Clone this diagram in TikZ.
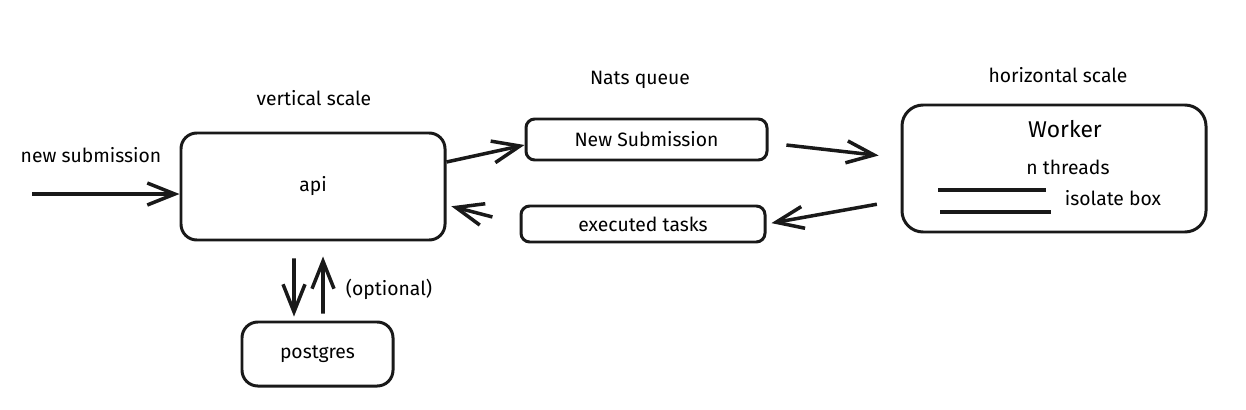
\documentclass[tikz,border=0pt]{standalone}
\usepackage{fontspec}
\setmainfont{Fira Sans}
\usetikzlibrary{arrows.meta}

\tikzset{
  box/.style={draw=black!90, line width=1.7pt, rounded corners=9pt, align=center, font=\fontsize{11}{13}\selectfont},
  lbl/.style={font=\fontsize{11}{13}\selectfont},
  arr/.style={black!90, line width=2pt, -{Straight Barb[length=5.5mm, width=4.4mm, line width=2pt]}}
}

\begin{document}
\begin{tikzpicture}[x=0.2mm, y=0.2mm]
\useasboundingbox (0,0) rectangle (1246,-409);

% boxes
\node[box, minimum width=5.28cm, minimum height=2.14cm] (api) at (313,-186.5) {api};
\node[box, minimum width=4.82cm, minimum height=0.82cm, rounded corners=5pt] (nsub) at (646.5,-139.5) {New Submission};
\node[box, minimum width=4.88cm, minimum height=0.72cm, rounded corners=5pt] (exec) at (643,-224) {executed tasks};
\node[box, minimum width=6.08cm, minimum height=2.54cm, rounded corners=12pt] (worker) at (1054,-168.5) {};
\node[box, minimum width=3.02cm, minimum height=1.28cm] (pg) at (317.5,-354) {postgres};

% labels
\node[lbl] (lnew) at (91,-155) {new submission};
\node[lbl] (lvert) at (314,-98) {vertical scale};
\node[lbl] (lnats) at (640,-80) {Nats queue};
\node[lbl] (lhor) at (1058,-75) {horizontal scale};
\node[font=\fontsize{13}{15}\selectfont] (lwork) at (1065,-129) {Worker};
\node[lbl] (lthr) at (1068,-167) {n threads};
\node[lbl] (liso) at (1113,-198) {isolate box};
\node[lbl] (lopt) at (389,-289) {(optional)};

% threads inside the worker
\draw[black!90, line width=2.2pt] (938,-190) -- (1046,-190);
\draw[black!90, line width=2.2pt] (940,-212) -- (1051,-212);

% arrows
\coordinate (in) at (32,-194);
\draw[arr] (in) -- (in -| api.west);
\draw[arr] ([yshift=0.49cm]api.east) -- ([yshift=-0.11cm]nsub.west);
\draw[arr, shorten <=0.36cm, shorten >=0.44cm] ([yshift=-0.07cm]nsub.east) -- ([yshift=0.21cm]worker.west);
\draw[arr, shorten <=0.48cm, shorten >=0.1cm] ([yshift=-0.63cm]worker.west) -- (exec.east);
\draw[arr, shorten <=0.56cm, shorten >=0.1cm] (exec.west) -- ([yshift=-0.37cm]api.east);
\draw[arr, shorten <=0.34cm, shorten >=0.08cm] ([xshift=-0.38cm]api.south) -- ([xshift=-0.47cm]pg.north);
\draw[arr, shorten <=0.14cm, shorten >=0.3cm] ([xshift=0.11cm]pg.north) -- ([xshift=0.2cm]api.south);

\end{tikzpicture}
\end{document}
